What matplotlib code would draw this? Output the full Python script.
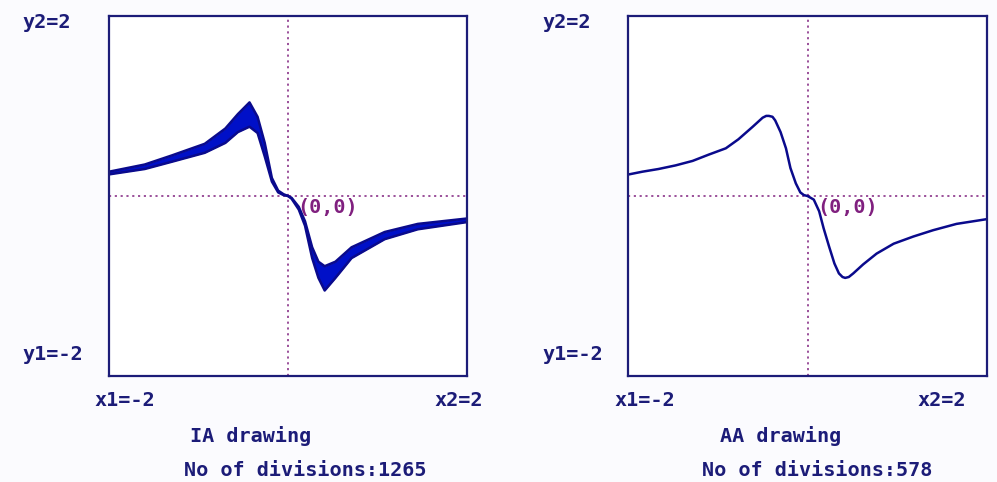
import matplotlib
matplotlib.use("Agg")
import matplotlib.pyplot as plt

W, H = 997, 482

# AA drawing: single curve
aa_x = [-1.99, -1.84, -1.66, -1.47, -1.28, -1.10, -0.91, -0.77, -0.61, -0.50, -0.46, -0.43,
        -0.39, -0.36, -0.30, -0.24, -0.19, -0.13, -0.08, -0.04, 0.0, 0.07, 0.13, 0.18, 0.24, 0.30,
        0.35, 0.39, 0.42, 0.46, 0.51, 0.62, 0.77, 0.96, 1.18, 1.40, 1.66, 1.98]
aa_y = [0.24, 0.27, 0.30, 0.34, 0.39, 0.46, 0.53, 0.63, 0.77, 0.87, 0.89, 0.89,
        0.88, 0.84, 0.71, 0.53, 0.31, 0.14, 0.04, 0.01, 0.0, -0.04, -0.17, -0.36, -0.56, -0.75,
        -0.86, -0.90, -0.91, -0.90, -0.86, -0.76, -0.64, -0.53, -0.45, -0.38, -0.31, -0.26]

# IA drawing: enclosure band (upper / lower edges)
ia_x = [-2.0, -1.6, -1.30, -0.93, -0.70, -0.56, -0.43, -0.34, -0.26, -0.18, -0.11,
        -0.05, 0.0, 0.04, 0.12, 0.19, 0.27, 0.34, 0.41, 0.53, 0.71, 1.08, 1.45, 2.0]
ia_hi = [0.27, 0.35, 0.45, 0.58, 0.75, 0.91, 1.04, 0.88, 0.59, 0.20, 0.06,
         0.02, 0.0, -0.02, -0.12, -0.28, -0.57, -0.73, -0.78, -0.73, -0.57, -0.40, -0.31, -0.25]
ia_lo = [0.24, 0.30, 0.38, 0.48, 0.59, 0.71, 0.77, 0.70, 0.44, 0.16, 0.04,
         0.01, 0.0, -0.03, -0.15, -0.33, -0.69, -0.91, -1.05, -0.91, -0.69, -0.48, -0.37, -0.29]

ia_divisions = 1265
aa_divisions = 578

navy = "#1c1c78"
curve = "#0a0a8c"
band = "#0010c8"
purple = "#80207f"

fig = plt.figure(figsize=(W / 100, H / 100), dpi=100)
fig.patch.set_facecolor("#fbfbfe")


def px(x, y):
    return x / W, 1 - y / H


def panel(left, right):
    x0, y0 = px(left, 376)
    ax = fig.add_axes([x0, y0, (right - left) / W, 360 / H])
    ax.set_xlim(-2, 2)
    ax.set_ylim(-2, 2)
    ax.set_xticks([])
    ax.set_yticks([])
    ax.set_facecolor("white")
    for s in ax.spines.values():
        s.set_color(navy)
        s.set_linewidth(1.6)
    ax.axhline(0, color=purple, lw=1.1, dashes=(1.4, 2.4))
    ax.axvline(0, color=purple, lw=1.1, dashes=(1.4, 2.4))
    return ax


ax1 = panel(109, 467)
ax1.fill_between(ia_x, ia_lo, ia_hi, color=band, lw=0)
ax1.plot(ia_x, ia_hi, color=curve, lw=1.8)
ax1.plot(ia_x, ia_lo, color=curve, lw=1.8)

ax2 = panel(628, 987)
ax2.plot(aa_x, aa_y, color=curve, lw=1.8)

font = dict(family="DejaVu Sans Mono", fontweight="bold", fontsize=14.5,
            color=navy, ha="center", va="center")

labels = [
    ("y2=2", 46.5, 23), ("y1=-2", 53, 355), ("x1=-2", 125, 400), ("x2=2", 458.5, 400),
    ("IA drawing", 251, 436), (f"No of divisions:{ia_divisions}", 305, 471),
    ("y2=2", 566.5, 23), ("y1=-2", 573, 355), ("x1=-2", 645, 400), ("x2=2", 942, 400),
    ("AA drawing", 781, 436), (f"No of divisions:{aa_divisions}", 817.5, 471),
]
for txt, x, y in labels:
    fig.text(*px(x, y), txt, **font)

for x in (327.5, 847.5):
    fig.text(*px(x, 208), "(0,0)", **{**font, "color": purple})

fig.savefig("out.png", dpi=100, facecolor=fig.get_facecolor())
